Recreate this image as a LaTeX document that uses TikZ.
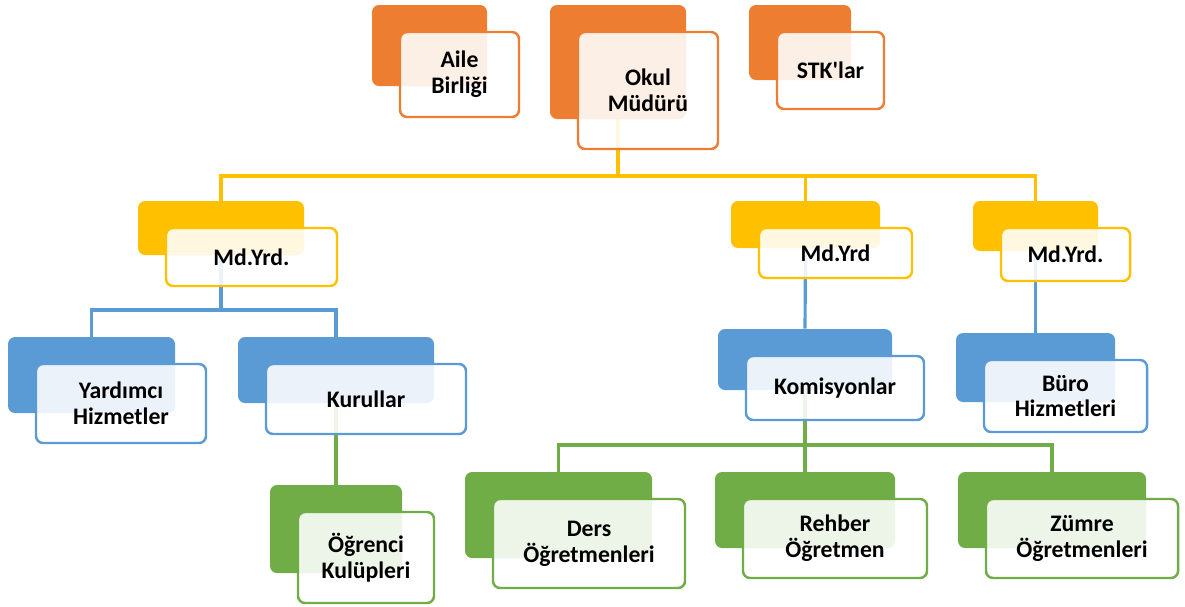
\documentclass[tikz,border=0pt]{standalone}
\usepackage{fontspec}
\setmainfont{Carlito}
\usetikzlibrary{positioning, backgrounds}
\definecolor{orgOrange}{HTML}{ED7D31}
\definecolor{orgYellow}{HTML}{FFC000}
\definecolor{orgBlue}{HTML}{5B9BD5}
\definecolor{orgGreen}{HTML}{70AD47}

\begin{document}
\begin{tikzpicture}[x=0.02cm, y=-0.02cm, line/.style={draw=#1, line width=1.8pt}, back/.style={fill=#1, draw=none, rounded corners=4pt, inner sep=0pt}, front/.style={draw=#1, fill=white, fill opacity=0.88, text opacity=1, line width=1.4pt, rounded corners=4pt, inner sep=2pt, align=center, font=\bfseries\fontsize{13.5}{14.7}\selectfont}, sz/.style 2 args={minimum width=#1*0.02cm, minimum height=#2*0.02cm}]
    \useasboundingbox (0,0) rectangle (1185,606);

    % Top row: orange boxes
    \node [back=orgOrange, sz={115}{81}] (aileB) at (429.5,45.5) {};
    \node [front=orgOrange, sz={119}{85}] (aile) at (459.5,74.5) {Aile\\Birliği};
    \node [back=orgOrange, sz={136}{114}] (okulB) at (618,62) {};
    \node [front=orgOrange, sz={140}{117}] (okul) at (648,90.5) {Okul\\Müdürü};
    \node [back=orgOrange, sz={102}{75}] (stkB) at (800,42.5) {};
    \node [front=orgOrange, sz={107}{77}] (stk) at (830.5,70.5) {STK\textquotesingle lar};

    % Second row: yellow boxes
    \node [back=orgYellow, sz={166}{54}] (md1B) at (221,228) {};
    \node [front=orgYellow, sz={171}{58}] (md1) at (251.5,257) {Md.Yrd.};
    \node [back=orgYellow, sz={149}{47}] (md2B) at (805.5,224.5) {};
    \node [front=orgYellow, sz={153}{50}] (md2) at (835.5,253) {Md.Yrd};
    \node [back=orgYellow, sz={125}{50}] (md3B) at (1035.5,226) {};
    \node [front=orgYellow, sz={129}{53}] (md3) at (1065.5,254.5) {Md.Yrd.};

    % Third row: blue boxes
    \node [back=orgBlue, sz={167}{76}] (yardB) at (91.5,375) {};
    \node [front=orgBlue, sz={170}{79}] (yard) at (121,403.5) {Yardımcı\\Hizmetler};
    \node [back=orgBlue, sz={196}{66}] (kurB) at (336,370) {};
    \node [front=orgBlue, sz={200}{70}] (kur) at (366,399) {Kurullar};
    \node [back=orgBlue, sz={174}{61}] (komB) at (805,359.5) {};
    \node [front=orgBlue, sz={178}{64}] (kom) at (835,388) {Komisyonlar};
    \node [back=orgBlue, sz={159}{69}] (buroB) at (1035.5,367.5) {};
    \node [front=orgBlue, sz={163}{72}] (buro) at (1065.5,396) {Büro\\Hizmetleri};

    % Bottom row: green boxes
    \node [back=orgGreen, sz={132}{88}] (ogrB) at (336,529) {};
    \node [front=orgGreen, sz={136}{91}] (ogr) at (366,557.5) {Öğrenci\\Kulüpleri};
    \node [back=orgGreen, sz={187}{86}] (dersB) at (558.5,515) {};
    \node [front=orgGreen, sz={192}{89}] (ders) at (589,543.5) {Ders\\Öğretmenleri};
    \node [back=orgGreen, sz={180}{76}] (rehbB) at (805,510) {};
    \node [front=orgGreen, sz={184}{79}] (rehb) at (835,538.5) {Rehber\\Öğretmen};
    \node [back=orgGreen, sz={188}{76}] (zumB) at (1052,510) {};
    \node [front=orgGreen, sz={192}{79}] (zum) at (1082,538.5) {Zümre\\Öğretmenleri};

    % Connectors, kept behind the boxes
    \coordinate (topBus) at (0,176);
    \coordinate (leftBus) at (0,310);
    \coordinate (greenBus) at (0,445);
    \begin{scope}[on background layer]
        \foreach \n in {md1B, md2B, md3B}
            \draw[line=orgYellow] (okulB.south) |- (topBus -| \n.north) -- (\n.north);
        \foreach \n in {yardB, kurB}
            \draw[line=orgBlue] (md1B.south) |- (leftBus -| \n.north) -- (\n.north);
        \draw[line=orgBlue] (md2B.south) -- (komB.north);
        \draw[line=orgBlue] (md3B.south) -- (buroB.north);
        \draw[line=orgGreen] (kurB.south) -- (ogrB.north);
        \foreach \n in {dersB, rehbB, zumB}
            \draw[line=orgGreen] (komB.south) |- (greenBus -| \n.north) -- (\n.north);
    \end{scope}
\end{tikzpicture}
\end{document}
